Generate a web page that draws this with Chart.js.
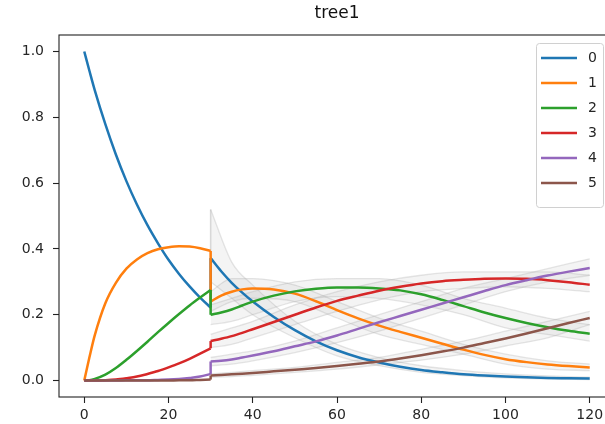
<!DOCTYPE html>
<html>
<head>
<meta charset="utf-8">
<script src="https://cdn.jsdelivr.net/npm/chart.js@4.4.0/dist/chart.umd.min.js"></script>
<style>
html, body { margin: 0; padding: 0; overflow: hidden; background: #fff; width: 605px; height: 424px; }
#wrap { width: 620px; height: 424px; }
</style>
</head>
<body>
<div id="wrap"><canvas id="c" width="620" height="424"></canvas></div>
<script>
// ---- data ----
const chartTitle = 'tree1';
// time points; 30 appears twice (value just before / just after the jump)
const t = [0, 1.25, 2.5, 5, 7.5, 10, 12.5, 15, 17.5, 20, 22.5, 25, 27.5, 30,
           30, 32.5, 35, 37.5, 40, 45, 50, 55, 60, 65, 70, 75, 80, 85, 90, 95, 100, 105, 110, 115, 120];
const s0 = [1.0, 0.94, 0.882, 0.779, 0.687, 0.606, 0.535, 0.472, 0.417, 0.367, 0.324, 0.286, 0.252, 0.222,
            0.372, 0.332, 0.297, 0.267, 0.24, 0.193, 0.153, 0.119, 0.092, 0.071, 0.055, 0.042, 0.032, 0.025, 0.019, 0.015, 0.012, 0.01, 0.008, 0.007, 0.006];
const s1 = [0, 0.072, 0.138, 0.235, 0.297, 0.34, 0.368, 0.387, 0.399, 0.405, 0.408, 0.407, 0.402, 0.394,
            0.24, 0.258, 0.27, 0.277, 0.28, 0.277, 0.264, 0.241, 0.214, 0.189, 0.167, 0.148, 0.13, 0.112, 0.094, 0.078, 0.065, 0.056, 0.049, 0.044, 0.04];
const s2 = [0, 0.001, 0.005, 0.018, 0.038, 0.063, 0.09, 0.118, 0.147, 0.175, 0.202, 0.228, 0.252, 0.275,
            0.2, 0.207, 0.216, 0.228, 0.24, 0.258, 0.271, 0.279, 0.283, 0.283, 0.28, 0.274, 0.262, 0.245, 0.226, 0.207, 0.19, 0.175, 0.162, 0.151, 0.142];
const s3 = [0, 0, 0, 0.001, 0.003, 0.007, 0.012, 0.02, 0.029, 0.04, 0.052, 0.066, 0.082, 0.098,
            0.12, 0.127, 0.135, 0.145, 0.156, 0.178, 0.2, 0.222, 0.242, 0.258, 0.273, 0.285, 0.295, 0.302, 0.306, 0.309, 0.31, 0.309, 0.305, 0.299, 0.291];
const s4 = [0, 0, 0, 0, 0, 0.001, 0.001, 0.001, 0.002, 0.003, 0.005, 0.008, 0.012, 0.02,
            0.058, 0.06, 0.064, 0.07, 0.076, 0.089, 0.104, 0.119, 0.137, 0.157, 0.177, 0.196, 0.215, 0.234, 0.253, 0.272, 0.29, 0.305, 0.319, 0.331, 0.342];
const s5 = [0, 0, 0, 0, 0, 0, 0, 0, 0, 0, 0.001, 0.001, 0.002, 0.003,
            0.015, 0.017, 0.019, 0.021, 0.023, 0.028, 0.033, 0.038, 0.044, 0.051, 0.058, 0.067, 0.077, 0.088, 0.1, 0.114, 0.128, 0.143, 0.159, 0.175, 0.19];
const seriesLabels = ['0', '1', '2', '3', '4', '5'];
const seriesValues = [s0, s1, s2, s3, s4, s5];

// grey simulation runs (rough upper / lower edges of the grey cloud after t = 30)
const gT = [30, 35, 40, 50, 60, 70, 80, 90, 100, 110, 120];
const g0a = [0.52, 0.36, 0.29, 0.18, 0.11, 0.07, 0.045, 0.03, 0.02, 0.014, 0.01];
const g0b = [0.30, 0.25, 0.20, 0.13, 0.075, 0.045, 0.025, 0.015, 0.008, 0.005, 0.003];
const g1a = [0.27, 0.31, 0.31, 0.29, 0.24, 0.19, 0.15, 0.11, 0.08, 0.06, 0.05];
const g1b = [0.21, 0.24, 0.25, 0.24, 0.19, 0.14, 0.11, 0.08, 0.05, 0.035, 0.03];
const g2a = [0.23, 0.25, 0.27, 0.30, 0.31, 0.31, 0.29, 0.25, 0.22, 0.19, 0.17];
const g2b = [0.17, 0.18, 0.20, 0.24, 0.255, 0.25, 0.23, 0.20, 0.16, 0.14, 0.12];
const g3a = [0.14, 0.16, 0.18, 0.23, 0.27, 0.30, 0.32, 0.33, 0.33, 0.33, 0.32];
const g3b = [0.10, 0.11, 0.13, 0.17, 0.21, 0.245, 0.27, 0.28, 0.285, 0.28, 0.27];
const g4a = [0.07, 0.08, 0.09, 0.12, 0.16, 0.20, 0.24, 0.28, 0.31, 0.34, 0.37];
const g4b = [0.045, 0.05, 0.06, 0.085, 0.115, 0.15, 0.19, 0.23, 0.27, 0.30, 0.32];
const g5a = [0.02, 0.025, 0.03, 0.04, 0.055, 0.07, 0.095, 0.12, 0.15, 0.18, 0.21];
const g5b = [0.01, 0.012, 0.016, 0.025, 0.035, 0.048, 0.062, 0.08, 0.105, 0.13, 0.17];
const greyPairs = [[g0a, g0b], [g1a, g1b], [g2a, g2b], [g3a, g3b], [g4a, g4b], [g5a, g5b]];
// grey vertical spike of the runs at the jump
const spikeX = [30, 30];
const spikeY = [0.2, 0.52];

const xTicks = [0, 20, 40, 60, 80, 100, 120];
const yTicks = [0.0, 0.2, 0.4, 0.6, 0.8, 1.0];
const colors = ['#1f77b4', '#ff7f0e', '#2ca02c', '#d62728', '#9467bd', '#8c564b'];

const textColor = '#262626';
const FONT = "'DejaVu Sans', sans-serif";
const GREY_LINE = 'rgba(170,170,170,0.30)';
const GREY_FILL = 'rgba(170,170,170,0.13)';

const datasets = [];
// grey runs underneath: each pair drawn as two faint lines with a faint band between
greyPairs.forEach(([up, lo]) => {
  datasets.push({
    data: up.map((v, k) => ({ x: gT[k], y: v })),
    borderColor: GREY_LINE, borderWidth: 1.3, pointRadius: 0,
    cubicInterpolationMode: 'monotone', fill: false, order: 20
  });
  datasets.push({
    data: lo.map((v, k) => ({ x: gT[k], y: v })),
    borderColor: GREY_LINE, backgroundColor: GREY_FILL, borderWidth: 1.3, pointRadius: 0,
    cubicInterpolationMode: 'monotone', fill: '-1', order: 20
  });
});
datasets.push({
  data: spikeX.map((x, k) => ({ x, y: spikeY[k] })),
  borderColor: 'rgba(170,170,170,0.45)', borderWidth: 1.5, pointRadius: 0, fill: false, order: 20
});

// main series: split at the repeated time point
const splitAt = t.findIndex((v, k) => k > 0 && v === t[k - 1]);
seriesValues.forEach((vals, i) => {
  const pts = vals.map((v, k) => ({ x: t[k], y: v }));
  const pre = pts.slice(0, splitAt);
  const post = pts.slice(splitAt);
  const common = { borderColor: colors[i], backgroundColor: colors[i], borderWidth: 2.5, pointRadius: 0, fill: false, order: 5 - i };
  datasets.push(Object.assign({ label: seriesLabels[i], isMain: true, data: pre, cubicInterpolationMode: 'monotone' }, common));
  datasets.push(Object.assign({ data: post, cubicInterpolationMode: 'monotone' }, common));
  datasets.push(Object.assign({ data: [pre[pre.length - 1], post[0]], tension: 0 }, common));
});

const framePlugin = {
  id: 'frame',
  afterDatasetsDraw(chart) {
    const a = chart.chartArea, ctx = chart.ctx;
    ctx.save();
    ctx.strokeStyle = '#222';
    ctx.lineWidth = 1.1;
    ctx.strokeRect(a.left, a.top, a.right - a.left, a.bottom - a.top);
    ctx.restore();
  }
};

const titlePlugin = {
  id: 'mtitle',
  afterDraw(chart) {
    const a = chart.chartArea, ctx = chart.ctx;
    ctx.save();
    ctx.fillStyle = '#111';
    ctx.font = '17px ' + FONT;
    ctx.textAlign = 'center';
    ctx.textBaseline = 'middle';
    ctx.fillText(chartTitle, (a.left + a.right) / 2, 14);
    ctx.restore();
  }
};

const legendPlugin = {
  id: 'mlegend',
  afterDraw(chart) {
    const ctx = chart.ctx;
    const main = chart.data.datasets.filter(d => d.isMain);
    const x0 = 536, y0 = 43, w = 67, rowH = 25, h = 14 + rowH * main.length;
    ctx.save();
    ctx.fillStyle = 'rgba(255,255,255,0.85)';
    ctx.strokeStyle = '#d0d0d0';
    ctx.lineWidth = 1;
    ctx.beginPath();
    ctx.roundRect(x0 + 0.5, y0 + 0.5, w, h, 3);
    ctx.fill();
    ctx.stroke();
    ctx.font = '14px ' + FONT;
    ctx.textBaseline = 'middle';
    ctx.textAlign = 'left';
    main.forEach((d, i) => {
      const y = y0 + 15 + rowH * i;
      ctx.strokeStyle = d.borderColor;
      ctx.lineWidth = 2.5;
      ctx.beginPath();
      ctx.moveTo(x0 + 5, y);
      ctx.lineTo(x0 + 41, y);
      ctx.stroke();
      ctx.fillStyle = textColor;
      ctx.fillText(d.label, x0 + 52, y);
    });
    ctx.restore();
  }
};

new Chart(document.getElementById('c'), {
  type: 'line',
  data: { datasets },
  options: {
    responsive: false,
    animation: false,
    events: [],
    layout: { padding: { top: 35, right: 5, left: 0, bottom: 0 } },
    plugins: { legend: { display: false }, title: { display: false }, tooltip: { enabled: false }, filler: { propagate: false } },
    scales: {
      x: {
        type: 'linear', min: -6, max: 126,
        afterBuildTicks: s => { s.ticks = xTicks.map(v => ({ value: v })); },
        afterFit: s => { s.height = 27; },
        grid: { drawOnChartArea: false, drawTicks: true, tickLength: 6, tickColor: '#222', tickWidth: 1.1 },
        border: { display: false },
        ticks: { color: textColor, font: { family: FONT, size: 14 }, padding: 4, maxRotation: 0, callback: v => String(v) }
      },
      y: {
        type: 'linear', min: -0.05, max: 1.05,
        afterBuildTicks: s => { s.ticks = yTicks.map(v => ({ value: v })); },
        afterFit: s => { s.width = 59; },
        grid: { drawOnChartArea: false, drawTicks: true, tickLength: 6, tickColor: '#222', tickWidth: 1.1 },
        border: { display: false },
        ticks: { color: textColor, font: { family: FONT, size: 14 }, padding: 9, callback: v => Number(v).toFixed(1) }
      }
    }
  },
  plugins: [framePlugin, titlePlugin, legendPlugin]
});
</script>
</body>
</html>
